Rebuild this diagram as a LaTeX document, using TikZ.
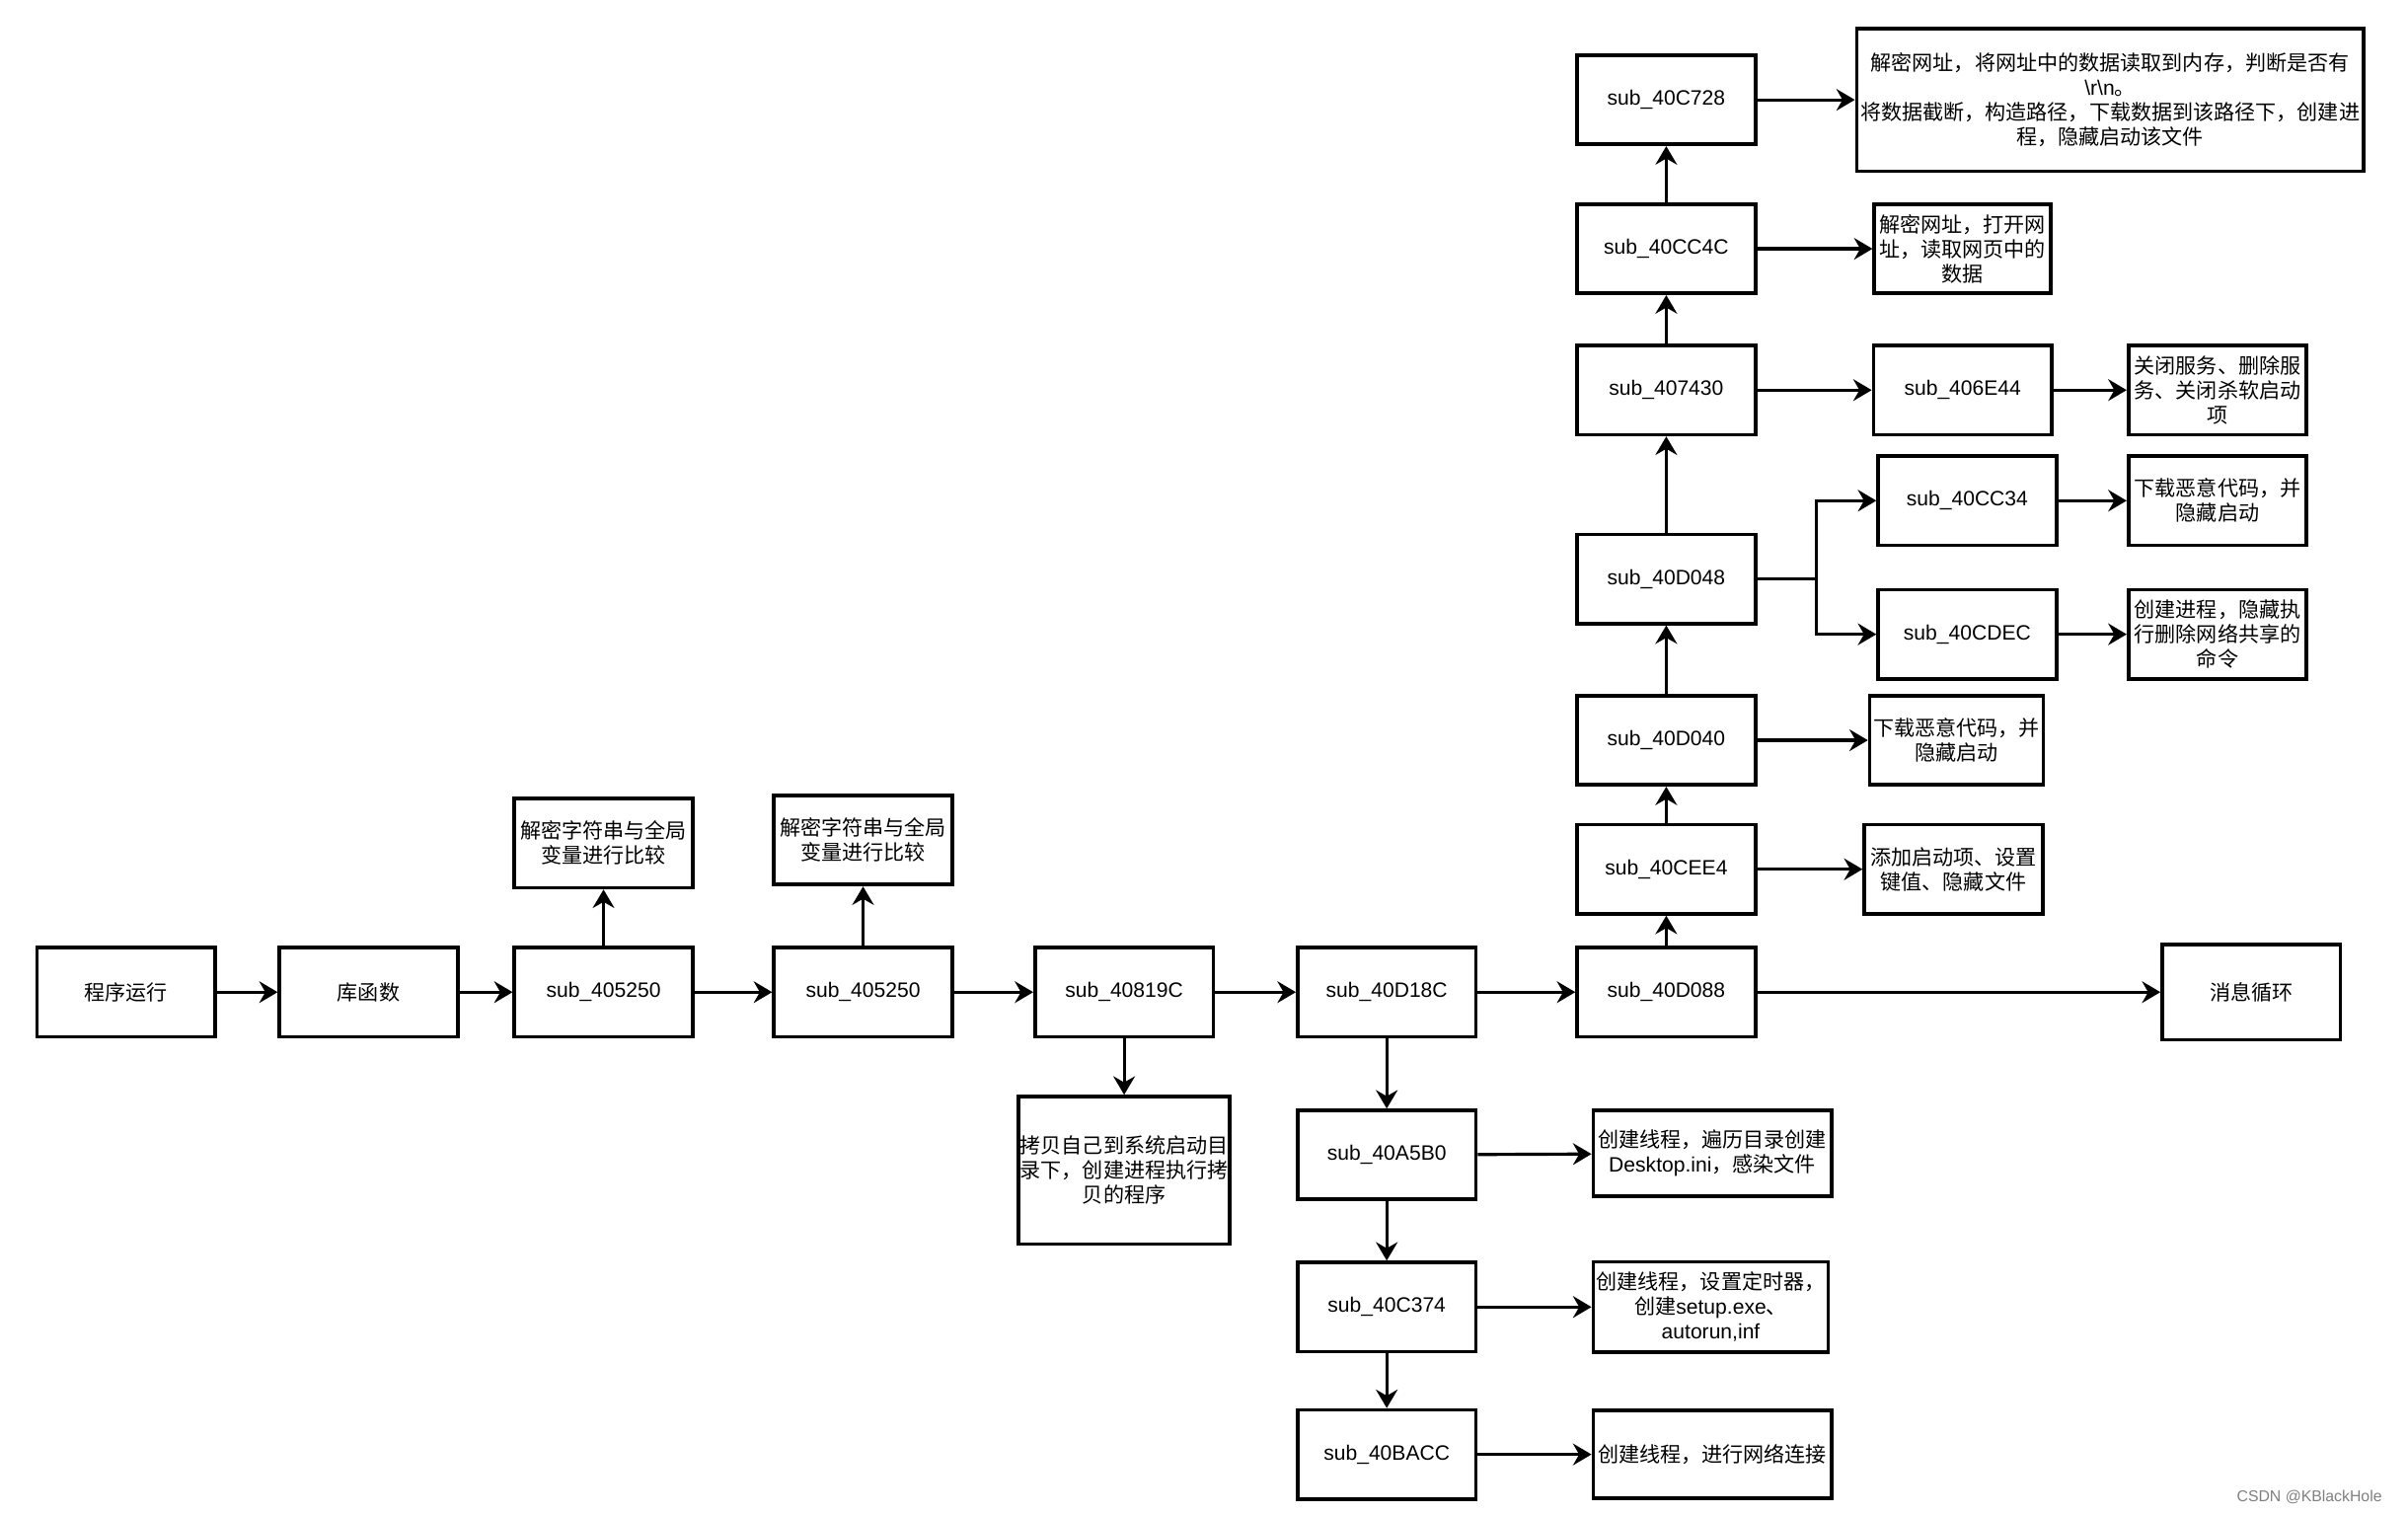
\documentclass[tikz,border=0pt]{standalone}
\usepackage{fontspec}
\setmainfont{Liberation Sans}
\newfontfamily\cjk{Noto Sans CJK SC}
\usetikzlibrary{arrows.meta}

\newlength{\du}
\setlength{\du}{0.015560cm}
\newcommand{\fs}{\fontsize{6}{7.1}\selectfont}

\tikzset{
  box/.style={draw=black, line width=1.05pt, minimum width=116\du, minimum height=58\du,
    inner sep=0.5pt, align=center, font=\fs},
  cbox/.style={box, font=\fs\cjk},
  arr/.style={-{Stealth[length=1.87mm,width=2.19mm,inset=0.62mm]}, line width=0.9pt},
}

\begin{document}
\begin{tikzpicture}
\pgftransformxscale{1.000000}
\pgftransformyscale{-1.000000}
\path[use as bounding box, fill=white] (0\du,0\du) rectangle (1568\du,986\du);

% main line
\node[cbox] (run) at (82\du,646\du){程序运行};
\node[cbox] (lib) at (240\du,646\du){库函数};
\node[box] (s405a) at (393\du,646\du){sub\_405250};
\node[box] (s405b) at (562\du,646\du){sub\_405250};
\node[box] (s819c) at (732\du,646\du){sub\_40819C};
\node[box] (sd18c) at (903\du,646\du){sub\_40D18C};
\node[box] (sd088) at (1085\du,646\du){sub\_40D088};
\node[cbox, minimum height=62\du] (loop) at (1466\du,646\du){消息循环};

% string decrypt
\node[cbox] (deca) at (393\du,549\du){解密字符串与全局\\变量进行比较};
\node[cbox] (decb) at (562\du,547\du){解密字符串与全局\\变量进行比较};

% copy self
\node[cbox, minimum width=136\du, minimum height=96\du] (copy) at (732\du,762\du){拷贝自己到系统启动目\\录下，创建进程执行拷\\贝的程序};

% threads below sub_40D18C
\node[box] (sa5b0) at (903\du,752\du){sub\_40A5B0};
\node[box] (sc374) at (903\du,851\du){sub\_40C374};
\node[box] (sbacc) at (903\du,947\du){sub\_40BACC};
\node[cbox, minimum width=155\du, minimum height=56\du] (tdesk) at (1115\du,751\du){创建线程，遍历目录创建\\{\rmfamily Desktop.ini}，感染文件};
\node[cbox, minimum width=153\du, minimum height=59\du] (tsetup) at (1114\du,851\du){创建线程，设置定时器，\\创建{\rmfamily setup.exe}、\\{\rmfamily autorun,inf}};
\node[cbox, minimum width=155\du, minimum height=57\du] (tnet) at (1115\du,947\du){创建线程，进行网络连接};

% chain above sub_40D088
\node[box] (scee4) at (1085\du,566\du){sub\_40CEE4};
\node[box] (sd040) at (1085\du,482\du){sub\_40D040};
\node[box] (sd048) at (1085\du,377\du){sub\_40D048};
\node[box] (s7430) at (1085\du,254\du){sub\_407430};
\node[box] (scc4c) at (1085\du,162\du){sub\_40CC4C};
\node[box] (sc728) at (1085\du,65\du){sub\_40C728};

\node[cbox] (tadd) at (1272\du,566\du){添加启动项、设置\\键值、隐藏文件};
\node[cbox, minimum width=113\du] (tdla) at (1274\du,482\du){下载恶意代码，并\\隐藏启动};
\node[box] (scc34) at (1281\du,326\du){sub\_40CC34};
\node[box] (scdec) at (1281\du,413\du){sub\_40CDEC};
\node[cbox] (tdlb) at (1444\du,326\du){下载恶意代码，并\\隐藏启动};
\node[cbox] (tshare) at (1444\du,413\du){创建进程，隐藏执\\行删除网络共享的\\命令};
\node[box] (s6e44) at (1278\du,254\du){sub\_406E44};
\node[cbox] (tsvc) at (1444\du,254\du){关闭服务、删除服\\务、关闭杀软启动\\项};
\node[cbox, minimum width=115\du] (turl) at (1278\du,162\du){解密网址，打开网\\址，读取网页中的\\数据};
\node[cbox, minimum width=330\du, minimum height=93\du] (tread) at (1374\du,65\du){解密网址，将网址中的数据读取到内存，判断是否有\\{\rmfamily\textbackslash r\textbackslash n}。\\将数据截断，构造路径，下载数据到该路径下，创建进\\程，隐藏启动该文件};

\coordinate (fork) at (1183\du,377\du);

% connectors
\draw[arr] (run) -- (lib);
\draw[arr] (lib) -- (s405a);
\draw[arr] (s405a) -- (s405b);
\draw[arr] (s405b) -- (s819c);
\draw[arr] (s819c) -- (sd18c);
\draw[arr] (sd18c) -- (sd088);
\draw[arr] (sd088) -- (loop);
\draw[arr] (s405a) -- (deca);
\draw[arr] (s405b) -- (decb);
\draw[arr] (s819c) -- (copy);
\draw[arr] (sd18c) -- (sa5b0);
\draw[arr] (sa5b0) -- (sc374);
\draw[arr] (sc374) -- (sbacc);
\draw[arr] (sa5b0) -- (tdesk);
\draw[arr] (sc374) -- (tsetup);
\draw[arr] (sbacc) -- (tnet);
\draw[arr] (sd088) -- (scee4);
\draw[arr] (scee4) -- (sd040);
\draw[arr] (sd040) -- (sd048);
\draw[arr] (sd048) -- (s7430);
\draw[arr] (s7430) -- (scc4c);
\draw[arr] (scc4c) -- (sc728);
\draw[arr] (scee4) -- (tadd);
\draw[arr] (sd040) -- (tdla);
\draw[line width=0.9pt] (sd048) -- (fork);
\draw[arr] (fork) |- (scc34);
\draw[arr] (fork) |- (scdec);
\draw[arr] (scc34) -- (tdlb);
\draw[arr] (scdec) -- (tshare);
\draw[arr] (s7430) -- (s6e44);
\draw[arr] (s6e44) -- (tsvc);
\draw[arr] (scc4c) -- (turl);
\draw[arr] (sc728) -- (tread);

% watermark
\node[anchor=east, text=gray, font=\fontsize{4.5}{5}\selectfont] (mark) at (1559\du,975\du){CSDN @KBlackHole};
\end{tikzpicture}
\end{document}
